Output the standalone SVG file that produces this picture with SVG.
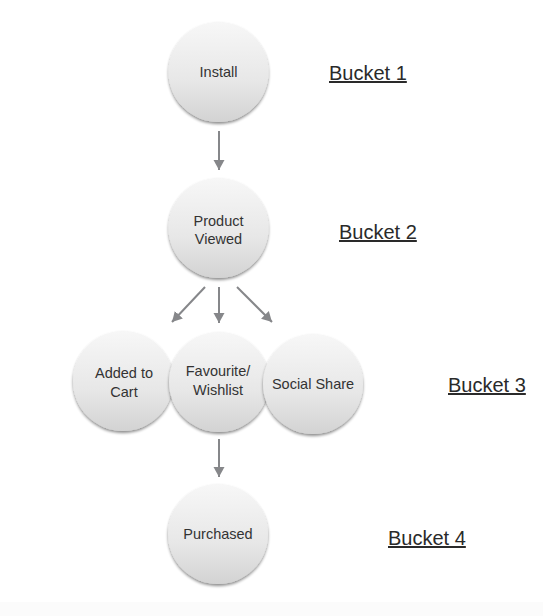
<svg xmlns="http://www.w3.org/2000/svg" width="543" height="616" viewBox="0 0 543 616">
<defs>
<linearGradient id="g" x1="0" y1="0" x2="0" y2="1">
<stop offset="0" stop-color="#f7f7f7"/>
<stop offset="0.6" stop-color="#e7e7e7"/>
<stop offset="1" stop-color="#d3d3d3"/>
</linearGradient>
<filter id="sh" x="-20%" y="-20%" width="140%" height="150%">
<feGaussianBlur in="SourceAlpha" stdDeviation="1.5"/>
<feOffset dx="0" dy="2" result="b"/>
<feComponentTransfer><feFuncA type="linear" slope="0.45"/></feComponentTransfer>
<feMerge><feMergeNode/><feMergeNode in="SourceGraphic"/></feMerge>
</filter>
<marker id="ah" markerUnits="userSpaceOnUse" markerWidth="12" markerHeight="12" viewBox="0 0 12 12" refX="10" refY="6" orient="auto">
<path d="M0,0.5 L10,6 L0,11.5 Z" fill="#86878a"/>
</marker>
</defs>
<style>
.n{fill:url(#g);filter:url(#sh);}
.t{font-family:"Liberation Sans",Arial,sans-serif;font-size:14.5px;fill:#333;text-anchor:middle;}
.b{font-family:"Liberation Sans",Arial,sans-serif;font-size:20px;fill:#2a2a2a;text-decoration:underline;}
.c{stroke:#86878a;stroke-width:2;fill:none;marker-end:url(#ah);}
</style>
<rect x="0" y="602" width="543" height="14" fill="#fbfbfb"/>
<g id="connectors">
<line class="c" x1="219" y1="131" x2="219" y2="170"/>
<line class="c" x1="205" y1="287" x2="172" y2="322"/>
<line class="c" x1="219" y1="287" x2="219" y2="323"/>
<line class="c" x1="237" y1="287" x2="272" y2="322"/>
<line class="c" x1="219" y1="439" x2="219" y2="477"/>
</g>
<g id="install"><circle class="n" cx="218.5" cy="72" r="50"/><text class="t" x="218.5" y="77">Install</text></g>
<g id="product-viewed"><circle class="n" cx="218.5" cy="228" r="50"/><text class="t" x="218.5" y="226">Product</text><text class="t" x="218.5" y="244">Viewed</text></g>
<g id="added-to-cart"><circle class="n" cx="123" cy="381" r="50"/><text class="t" x="124" y="378">Added to</text><text class="t" x="124" y="397">Cart</text></g>
<g id="favourite-wishlist"><circle class="n" cx="219" cy="382" r="50"/><text class="t" x="218" y="376">Favourite/</text><text class="t" x="218" y="395">Wishlist</text></g>
<g id="social-share"><circle class="n" cx="313" cy="384" r="50"/><text class="t" x="313" y="389">Social Share</text></g>
<g id="purchased"><circle class="n" cx="218" cy="534" r="50"/><text class="t" x="218" y="539">Purchased</text></g>
<g id="labels">
<text class="b" x="329" y="80">Bucket 1</text>
<text class="b" x="339" y="239">Bucket 2</text>
<text class="b" x="448" y="392">Bucket 3</text>
<text class="b" x="388" y="545">Bucket 4</text>
</g>
</svg>
